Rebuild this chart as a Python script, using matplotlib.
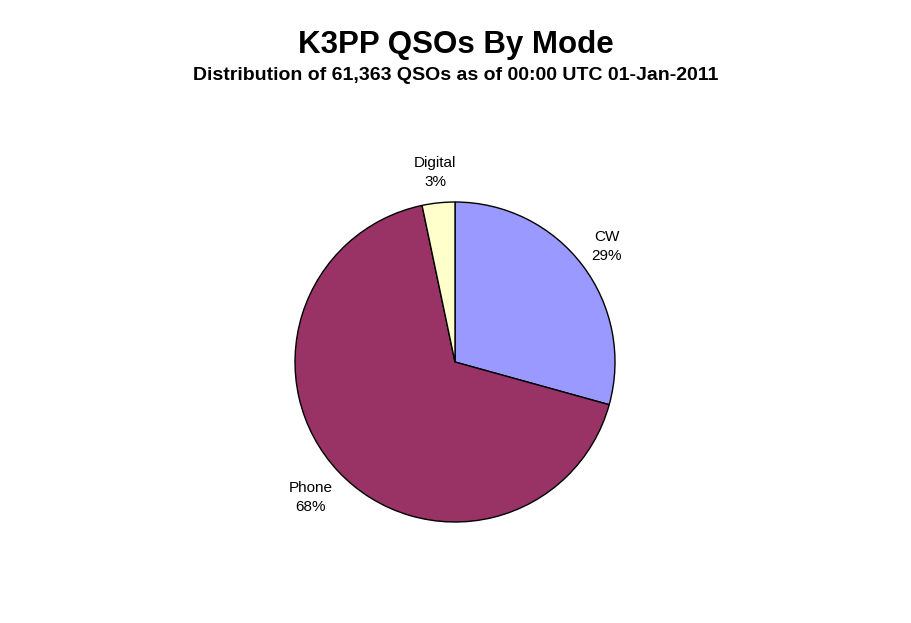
import matplotlib.pyplot as plt

# QSO share by mode (percent of 61,363 QSOs)
modes = ["CW", "Phone", "Digital"]
shares = [29.3, 67.4, 3.3]
pct_labels = ["29%", "68%", "3%"]
colors = ["#9999FF", "#993366", "#FFFFCC"]

plt.rcParams['font.family'] = ['Liberation Sans', 'DejaVu Sans']

fig = plt.figure(figsize=(9.11, 6.23), dpi=100)
ax = fig.add_axes([255 / 911, 61 / 623, 400 / 911, 400 / 623])

wedges, texts = ax.pie(
    shares,
    labels=[f"{m}\n{p}" for m, p in zip(modes, pct_labels)],
    colors=colors,
    startangle=90,
    counterclock=False,
    labeldistance=1.19,
    wedgeprops={'edgecolor': 'black', 'linewidth': 1.0},
    textprops={'fontsize': 11, 'linespacing': 1.45},
)
for t in texts:
    t.set_ha('center')
    t.set_va('center')
# Phone label sits a bit further out in the original
texts[1].set_position((texts[1].get_position()[0] * 1.04, texts[1].get_position()[1] * 1.04))

ax.set_xlim(-1.25, 1.25)
ax.set_ylim(-1.25, 1.25)
ax.set_aspect('equal')

fig.text(0.5, 1 - 45 / 623, "K3PP QSOs By Mode", ha='center', va='center',
         fontsize=22.5, fontweight='bold')
fig.text(0.5, 1 - 76 / 623, "Distribution of 61,363 QSOs as of 00:00 UTC 01-Jan-2011",
         ha='center', va='center', fontsize=14, fontweight='bold')

fig.savefig("out.png", dpi=100)
